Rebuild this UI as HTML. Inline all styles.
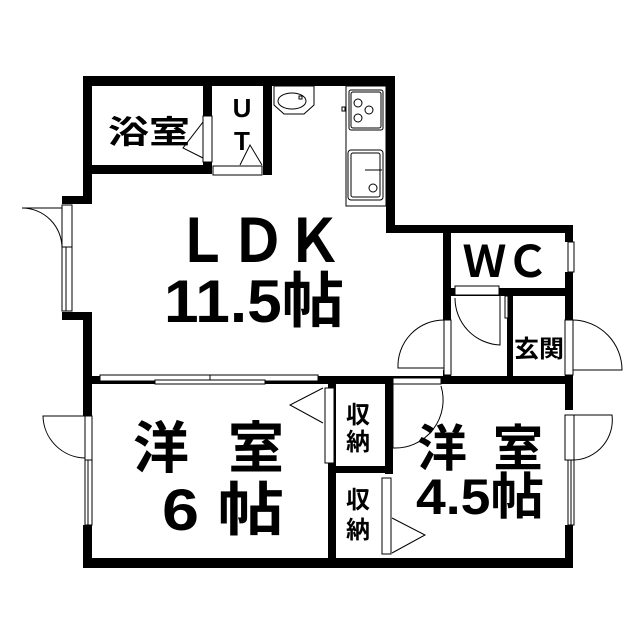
<!DOCTYPE html>
<html><head><meta charset="utf-8"><style>
html,body{margin:0;padding:0;background:#fff;}
svg{display:block;}
text{font-family:"Liberation Sans","Noto Sans CJK JP",sans-serif;fill:#000;font-weight:bold;}
</style></head><body>
<svg width="640" height="640" viewBox="0 0 640 640" xmlns="http://www.w3.org/2000/svg">
<rect width="640" height="640" fill="#fff"/>
<g fill="#000">
<rect x="83" y="76" width="312" height="10"/>
<rect x="83" y="76" width="9" height="124"/>
<rect x="83" y="316" width="9" height="100"/>
<rect x="83" y="525" width="9" height="43"/>
<rect x="62" y="196" width="30" height="8"/>
<rect x="62" y="312" width="30" height="8"/>
<rect x="386" y="76" width="9" height="157"/>
<rect x="386" y="225" width="187" height="8"/>
<rect x="565" y="225" width="8" height="17"/>
<rect x="565" y="272" width="8" height="48"/>
<rect x="565" y="375" width="8" height="35"/>
<rect x="565" y="525" width="8" height="43"/>
<rect x="83" y="558" width="490" height="10"/>
<rect x="203" y="86" width="9" height="88"/>
<rect x="92" y="165" width="120" height="9"/>
<rect x="263" y="86" width="9" height="89"/>
<rect x="443" y="225" width="8" height="95"/>
<rect x="443" y="370" width="8" height="14"/>
<rect x="451" y="288" width="114" height="8"/>
<rect x="507" y="296" width="6" height="82"/>
<rect x="83" y="376" width="490" height="8"/>
<rect x="328" y="384" width="8" height="176"/>
<rect x="336" y="466" width="54" height="7"/>
<rect x="385" y="384" width="8" height="90"/>
</g>
<g fill="#fff" stroke="#000" stroke-width="1">
<rect x="203" y="116" width="9" height="46"/>
<polyline points="203,122 183,148 203,158" fill="none"/>
<rect x="213" y="166" width="49" height="9"/>
<polyline points="240,165 250,145 262,165" fill="none"/>
<rect x="62" y="205" width="10" height="42"/>
<rect x="62" y="247" width="10" height="64"/>
<line x1="66" y1="247" x2="66" y2="311"/>
<path d="M62,248 A40,40 0 0 0 22,208 L62,208" fill="none"/>
<rect x="100" y="375" width="218" height="6"/>
<line x1="210" y1="375" x2="210" y2="381"/>
<rect x="155" y="380" width="110" height="4"/>
<rect x="568" y="242" width="6" height="30"/>
<rect x="455" y="286" width="44" height="9"/>
<path d="M500,295 L500,345 A47,47 0 0 1 455,298" fill="none"/>
<rect x="505" y="296" width="3" height="22"/>
<rect x="444" y="320" width="7" height="55"/>
<path d="M444,320 A46,46 0 0 0 398,368 L444,368" fill="none"/>
<rect x="565" y="320" width="8" height="55"/>
<path d="M573,320 A50,50 0 0 1 622,370 L573,370" fill="none"/>
<rect x="393" y="378" width="48" height="6"/>
<path d="M393,384 L393,448 A48,48 0 0 0 441,386" fill="none"/>
<rect x="85" y="416" width="7" height="44"/>
<rect x="85" y="460" width="7" height="65"/>
<line x1="88" y1="460" x2="88" y2="525"/>
<path d="M85,458 A43,43 0 0 1 43,416 L85,416" fill="none"/>
<rect x="325" y="388" width="9" height="75"/>
<polyline points="323,388 290,405 323,423" fill="none"/>
<rect x="382" y="478" width="9" height="76"/>
<polyline points="392,518 425,535 392,553" fill="none"/>
<rect x="565" y="415" width="9" height="45"/>
<rect x="568" y="460" width="6" height="65"/>
<line x1="571" y1="460" x2="571" y2="525"/>
<path d="M574,415 L612,415 A40,40 0 0 1 574,460" fill="none"/>
<rect x="346" y="86" width="40" height="120"/>
<rect x="349" y="90" width="34" height="40" rx="2"/>
<rect x="351" y="92" width="30" height="36" rx="2"/>
<circle cx="358" cy="103" r="4"/><circle cx="369" cy="110" r="4"/><circle cx="358" cy="118" r="4"/>
<rect x="348" y="150" width="35" height="50" rx="3"/>
<rect x="351" y="153" width="29" height="44" rx="2"/>
<line x1="365" y1="170" x2="382" y2="170"/>
<circle cx="373" cy="188" r="4"/>
<rect x="342" y="107" width="3" height="4"/>
<path d="M274,86 L314,86 L314,105 L304,114 L284,114 L274,105 Z"/>
<ellipse cx="292" cy="101" rx="14" ry="8"/>
<rect x="299" y="96" width="3" height="3"/>
</g>
<text x="108" y="143" font-size="32" textLength="82" lengthAdjust="spacingAndGlyphs">浴室</text>
<text x="242" y="117" font-size="26" text-anchor="middle" font-weight="normal">U</text>
<text x="242" y="150" font-size="26" text-anchor="middle" font-weight="normal">T</text>
<text x="174" y="262" font-size="60" textLength="168" lengthAdjust="spacingAndGlyphs" font-weight="normal">ＬＤＫ</text>
<text x="164" y="322" font-size="60" textLength="180" lengthAdjust="spacingAndGlyphs">11.5帖</text>
<text x="463" y="277" font-size="44" textLength="86" lengthAdjust="spacingAndGlyphs" font-weight="normal">ＷＣ</text>
<text x="514" y="357" font-size="24" textLength="50" lengthAdjust="spacingAndGlyphs">玄関</text>
<text x="133" y="468" font-size="56">洋</text>
<text x="228" y="468" font-size="56">室</text>
<text x="162" y="530" font-size="58" textLength="122" lengthAdjust="spacingAndGlyphs">6 帖</text>
<text x="346" y="423" font-size="24">収</text>
<text x="346" y="450" font-size="24">納</text>
<text x="346" y="508" font-size="24">収</text>
<text x="346" y="538" font-size="24">納</text>
<text x="417" y="466" font-size="50">洋</text>
<text x="493" y="466" font-size="50">室</text>
<text x="416" y="514" font-size="50" textLength="128" lengthAdjust="spacingAndGlyphs">4.5帖</text>
</svg>
</body></html>
